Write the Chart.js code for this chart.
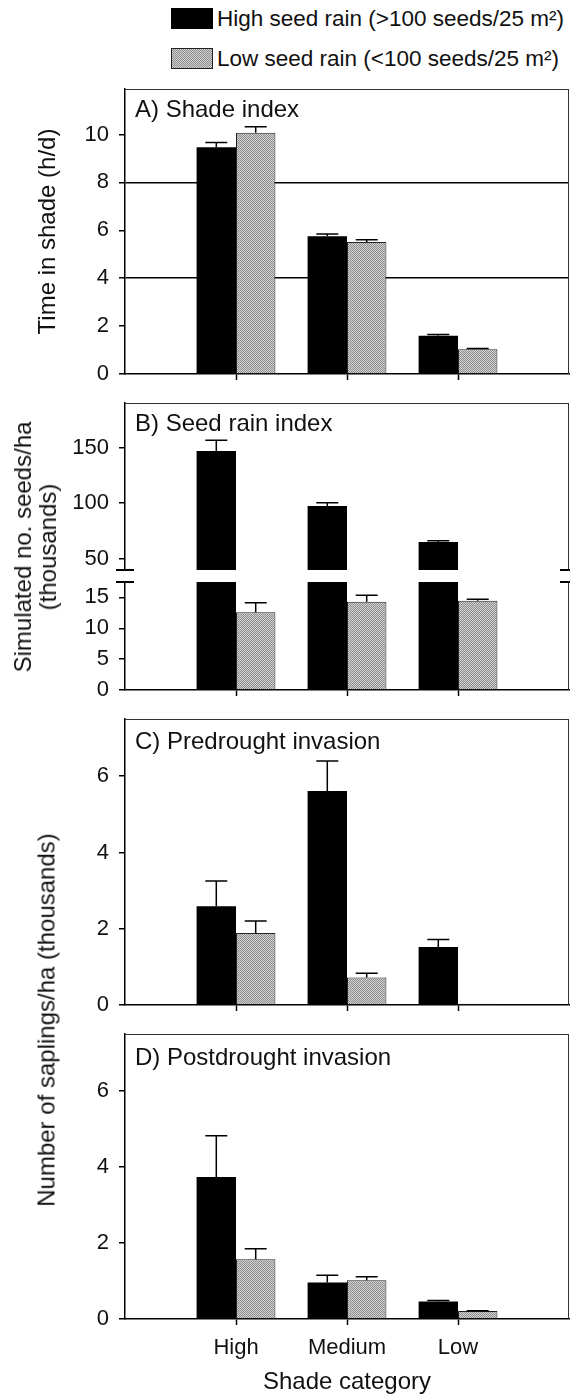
<!DOCTYPE html>
<html><head><meta charset="utf-8">
<script src="https://cdn.jsdelivr.net/npm/chart.js@4/dist/chart.umd.min.js"></script>
<style>
html,body{margin:0;padding:0;background:#fff;}
#wrap{position:relative;width:570px;height:1399px;overflow:hidden;font-family:"Liberation Sans",Arial,Helvetica,sans-serif;color:#111;}
.box{position:absolute;left:0;width:570px;}
.ptitle{position:absolute;left:135px;font-size:24px;line-height:24px;white-space:nowrap;}
.vtitle{position:absolute;font-size:24px;line-height:25px;white-space:nowrap;text-align:center;transform:translate(-50%,-50%) rotate(-90deg);}
.leg{position:absolute;left:171px;height:21px;font-size:22.5px;white-space:nowrap;display:flex;align-items:center;}
.sw{width:42px;height:21px;margin-right:4px;box-sizing:border-box;}
.sw.hi{background:#000;}
.sw.lo{border:1px solid #222;background:repeating-conic-gradient(#8e8e8e 0 25%, #d2d2d2 0 50%) 0 0/2px 2px;}
</style></head>
<body>
<div id="wrap">
  <div class="leg" style="top:8px"><div class="sw hi"></div><span id="leg0"></span></div>
  <div class="leg" style="top:48px"><div class="sw lo"></div><span id="leg1"></span></div>

  <div class="box" style="top:80px;height:320px"><canvas id="cA"></canvas></div>
  <div class="box" style="top:397px;height:178px"><canvas id="cBu"></canvas></div>
  <div class="box" style="top:575px;height:125px"><canvas id="cBl"></canvas></div>
  <div class="box" style="top:700px;height:315px"><canvas id="cC"></canvas></div>
  <div class="box" style="top:1020px;height:379px"><canvas id="cD"></canvas></div>

  <div class="ptitle" id="tA" style="top:97px"></div>
  <div class="ptitle" id="tB" style="top:411px"></div>
  <div class="ptitle" id="tC" style="top:729px"></div>
  <div class="ptitle" id="tD" style="top:1045px"></div>

  <div class="vtitle" id="yB" style="left:35px;top:547px"></div>
  <div class="vtitle" id="yCD" style="left:46px;top:1020px"></div>
</div>
<script>
// ---------------- data ----------------
const categories = ['High', 'Medium', 'Low'];
const seriesNames = ['High seed rain (>100 seeds/25 m\u00B2)', 'Low seed rain (<100 seeds/25 m\u00B2)'];
const panelTitles = ['A) Shade index', 'B) Seed rain index', 'C) Predrought invasion', 'D) Postdrought invasion'];
const yTitleA = 'Time in shade (h/d)';
const yTitleB = ['Simulated no. seeds/ha', '(thousands)'];
const yTitleCD = 'Number of saplings/ha (thousands)';
const xTitle = 'Shade category';

// A) Shade index (h/d)
const shadeHigh = [9.47, 5.75, 1.60];
const shadeHighErr = [0.20, 0.10, 0.05];
const shadeLow = [10.07, 5.51, 1.03];
const shadeLowErr = [0.25, 0.10, 0.03];
const ticksA = [0, 2, 4, 6, 8, 10];
const refLinesA = [4, 8];

// B) Seed rain index (thousands/ha)
const seedHigh = [146.9, 97.5, 65.2];
const seedHighErr = [9.6, 3.0, 1.1];
const seedLow = [12.6, 14.3, 14.47];
const seedLowErr = [1.55, 1.05, 0.23];
const ticksBUpper = [50, 100, 150];
const ticksBLower = [0, 5, 10, 15];

// C) Predrought invasion (thousands/ha)
const preHigh = [2.59, 5.61, 1.52];
const preHighErr = [0.66, 0.79, 0.20];
const preLow = [1.89, 0.72, 0.035];
const preLowErr = [0.31, 0.11, 0];
const ticksC = [0, 2, 4, 6];

// D) Postdrought invasion (thousands/ha)
const postHigh = [3.74, 0.96, 0.46];
const postHighErr = [1.08, 0.19, 0.03];
const postLow = [1.57, 1.02, 0.21];
const postLowErr = [0.28, 0.09, 0.01];
const ticksD = [0, 2, 4, 6];

// ---------------- text ----------------
document.getElementById('leg0').textContent = seriesNames[0];
document.getElementById('leg1').textContent = seriesNames[1];
['tA','tB','tC','tD'].forEach((id,i)=>document.getElementById(id).textContent = panelTitles[i]);
document.getElementById('yB').innerHTML = yTitleB.join('<br>');
document.getElementById('yCD').textContent = yTitleCD;

// ---------------- chart setup ----------------
Chart.defaults.font.family = "'Liberation Sans', Arial, Helvetica, sans-serif";
Chart.defaults.color = '#111';
Chart.defaults.animation = false;

const labels = ['', ...categories, ''];
const pad = a => [null, ...a, null];

function stipple() {
  const c = document.createElement('canvas'); c.width = 2; c.height = 2;
  const g = c.getContext('2d');
  g.fillStyle = '#d2d2d2'; g.fillRect(0, 0, 2, 2);
  g.fillStyle = '#8e8e8e'; g.fillRect(0, 0, 1, 1); g.fillRect(1, 1, 1, 1);
  return g.createPattern(c, 'repeat');
}
const grayPattern = stipple();

function noPad(s) { s.paddingTop = 0; s.paddingBottom = 0; s.paddingLeft = 0; s.paddingRight = 0; }

const errPlugin = {
  id: 'errbars',
  afterDatasetsDraw(chart) {
    const {ctx, chartArea: a} = chart;
    const ys = chart.scales.y;
    ctx.save();
    ctx.beginPath(); ctx.rect(a.left, a.top, a.right - a.left, a.bottom - a.top); ctx.clip();
    ctx.strokeStyle = '#000'; ctx.lineWidth = 1.5;
    chart.data.datasets.forEach((ds, i) => {
      const meta = chart.getDatasetMeta(i);
      meta.data.forEach((bar, j) => {
        const v = ds.data[j], e = ds.errors ? ds.errors[j] : null;
        if (v == null || !e) return;
        const x = bar.x, y0 = ys.getPixelForValue(v), y1 = ys.getPixelForValue(v + e);
        ctx.beginPath();
        ctx.moveTo(x, y0); ctx.lineTo(x, y1);
        ctx.moveTo(x - 11, y1); ctx.lineTo(x + 11, y1);
        ctx.stroke();
      });
    });
    ctx.restore();
  }
};

const framePlugin = {
  id: 'frame',
  afterDraw(chart, args, opts) {
    const {ctx, chartArea: a} = chart;
    ctx.save();
    ctx.strokeStyle = '#333'; ctx.lineWidth = 1;
    ctx.beginPath();
    if (opts.top) { ctx.moveTo(a.left, a.top + 0.5); ctx.lineTo(a.right, a.top + 0.5); }
    if (opts.right) { ctx.moveTo(a.right - 0.5, a.top); ctx.lineTo(a.right - 0.5, a.bottom); }
    ctx.stroke();
    if (opts.breakAt) {
      const y = opts.breakAt === 'bottom' ? a.bottom : a.top;
      ctx.strokeStyle = '#000'; ctx.lineWidth = 2;
      ctx.beginPath();
      ctx.moveTo(a.left - 9, y); ctx.lineTo(a.left + 9, y);
      ctx.moveTo(a.right - 9, y); ctx.lineTo(a.right + 9, y);
      ctx.stroke();
    }
    ctx.restore();
  }
};

function makePanel(id, o) {
  const datasets = [
    {label: seriesNames[0], data: pad(o.hi), errors: pad(o.hiErr), backgroundColor: '#000',
     borderColor: '#000', borderWidth: 0, clip: 0},
    {label: seriesNames[1], data: pad(o.lo), errors: pad(o.loErr), backgroundColor: grayPattern,
     borderColor: '#222', borderWidth: 1, borderSkipped: 'start', clip: 0}
  ];
  return new Chart(document.getElementById(id), {
    type: 'bar',
    data: {labels, datasets},
    options: {
      responsive: true, maintainAspectRatio: false,
      layout: {padding: {top: o.padTop, right: 1, bottom: o.padBottom || 0, left: 0}},
      datasets: {bar: {categoryPercentage: 0.71, barPercentage: 1.0}},
      plugins: {legend: {display: false}, tooltip: {enabled: false},
                frame: {top: o.frameTop !== false, right: true, breakAt: o.breakAt}},
      scales: {
        x: {
          type: 'category', offset: false, display: o.xDisplay !== false,
          grid: {offset: false, drawOnChartArea: false, drawTicks: true, tickLength: 6, tickWidth: 1.5,
                 tickColor: c => (c.index === 0 || c.index === labels.length - 1) ? 'rgba(0,0,0,0)' : '#000'},
          border: {display: true, color: '#000', width: 1.5},
          ticks: {autoSkip: false, maxRotation: 0, padding: 10, font: {size: 22}, color: '#111',
                  callback: function (v) { return o.xLabels ? this.getLabelForValue(v) : ''; }},
          title: {display: !!o.xTitle, text: o.xTitle || '', font: {size: 24}, color: '#111',
                  padding: {top: 0, bottom: 2}},
          afterFit: s => { s.height = o.xHeight; noPad(s); }
        },
        y: {
          min: o.min, max: o.max,
          afterBuildTicks: s => { s.ticks = o.ticks.map(v => ({value: v})); },
          grid: {drawOnChartArea: !!o.refLines, lineWidth: 1.5,
                 color: c => (o.refLines && c.tick && o.refLines.includes(c.tick.value)) ? '#000' : 'rgba(0,0,0,0)',
                 tickLength: 6, tickWidth: 1.5, tickColor: '#000'},
          border: {display: true, color: '#000', width: 1.5},
          ticks: {font: {size: 22}, padding: 10, color: '#111'},
          title: {display: !!o.yTitle, text: o.yTitle || '', font: {size: 24}, color: '#111',
                  padding: {top: 34, bottom: 0}},
          afterFit: s => { s.width = 125; noPad(s); }
        }
      }
    },
    plugins: [errPlugin, framePlugin]
  });
}

makePanel('cA', {hi: shadeHigh, hiErr: shadeHighErr, lo: shadeLow, loErr: shadeLowErr,
  min: 0, max: 11.9, ticks: ticksA, refLines: refLinesA, padTop: 9, xHeight: 26, yTitle: yTitleA});
makePanel('cBu', {hi: seedHigh, hiErr: seedHighErr, lo: seedLow, loErr: seedLowErr,
  min: 40, max: 190, ticks: ticksBUpper, padTop: 6, padBottom: 5, xDisplay: false, xHeight: 0,
  breakAt: 'bottom'});
makePanel('cBl', {hi: seedHigh, hiErr: seedHighErr, lo: seedLow, loErr: seedLowErr,
  min: 0, max: 17.5, ticks: ticksBLower, padTop: 7, xHeight: 10, frameTop: false, breakAt: 'top'});
makePanel('cC', {hi: preHigh, hiErr: preHighErr, lo: preLow, loErr: preLowErr,
  min: 0, max: 7.5, ticks: ticksC, padTop: 19, xHeight: 10});
makePanel('cD', {hi: postHigh, hiErr: postHighErr, lo: postLow, loErr: postLowErr,
  min: 0, max: 7.5, ticks: ticksD, padTop: 14, xHeight: 80, xLabels: true, xTitle: xTitle});
</script>
</body></html>
